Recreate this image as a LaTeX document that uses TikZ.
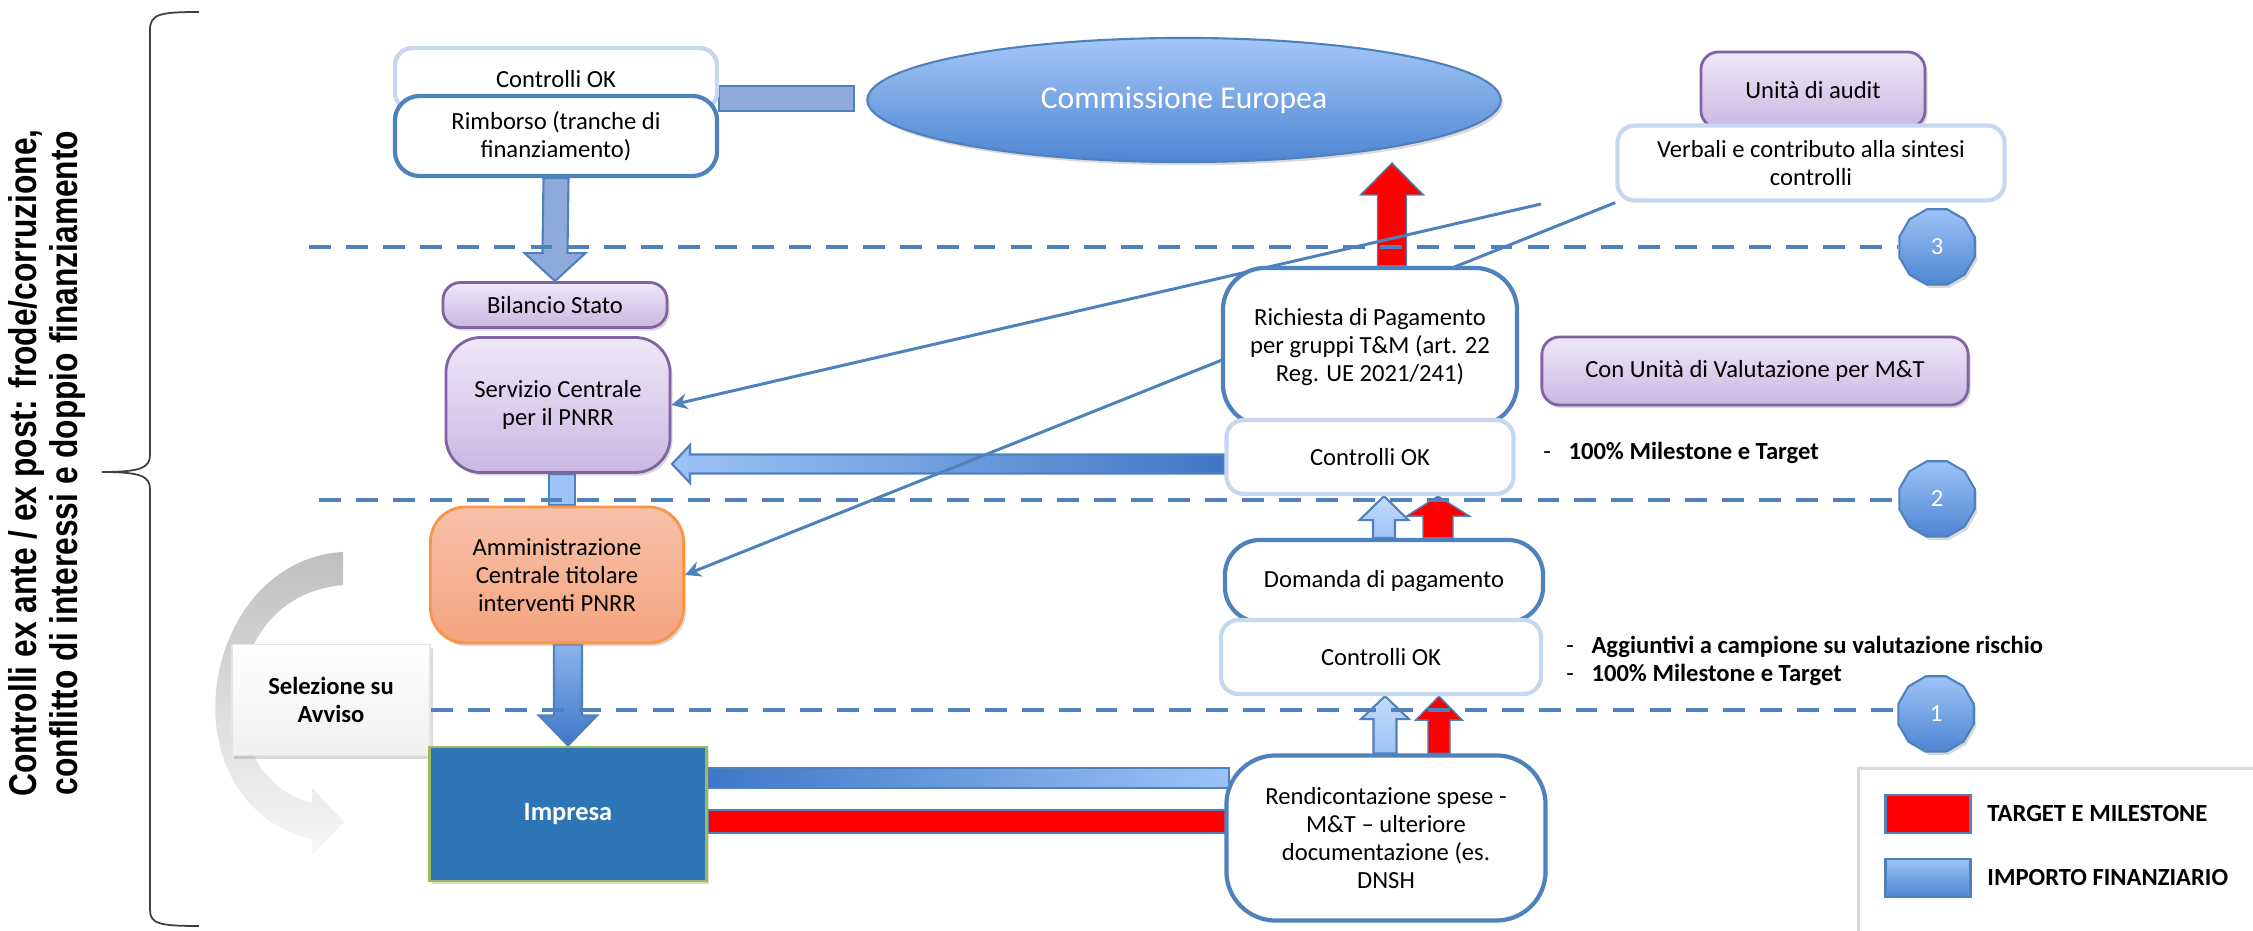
\documentclass[tikz,border=0pt]{standalone}
\usepackage{fontspec}
\setmainfont{Carlito}
\newfontfamily\narrowbold{Liberation Sans}[FakeStretch=0.82]
\usetikzlibrary{shapes.geometric,shadows,calc,backgrounds,arrows.meta}

\definecolor{pnrrblue}{HTML}{4F81BD}
\definecolor{lightblue}{HTML}{9DC3F7}
\definecolor{midblue}{HTML}{8EAADB}
\definecolor{darkblue}{HTML}{3F77C6}
\definecolor{okedge}{HTML}{C5D8F0}
\definecolor{lilacedge}{HTML}{8064A2}
\definecolor{lilactop}{HTML}{EEE8F7}
\definecolor{lilacbot}{HTML}{CBB7E3}
\definecolor{peachtop}{HTML}{F8C1A9}
\definecolor{peachbot}{HTML}{F4A47F}
\definecolor{peachedge}{HTML}{F79646}
\definecolor{impblue}{HTML}{2E75B6}
\definecolor{impedge}{HTML}{9BBB59}
\definecolor{ceTop}{HTML}{A3C7F7}
\definecolor{ceBot}{HTML}{4E85D2}

% vertical block arrow: style, base, tip, half shaft, half head, head length
\newcommand\blockv[6]{%
  \draw[#1] ($(#2)+(-#4,0)$) -- ($(#3)+(-#4,#6)$) -- ($(#3)+(-#5,#6)$) -- (#3)
    -- ($(#3)+(#5,#6)$) -- ($(#3)+(#4,#6)$) -- ($(#2)+(#4,0)$) -- cycle;}
% horizontal block arrow
\newcommand\blockh[6]{%
  \draw[#1] ($(#2)+(0,-#4)$) -- ($(#3)+(#6,-#4)$) -- ($(#3)+(#6,-#5)$) -- (#3)
    -- ($(#3)+(#6,#5)$) -- ($(#3)+(#6,#4)$) -- ($(#2)+(0,#4)$) -- cycle;}

\tikzset{
  softshadow/.style={drop shadow={shadow xshift=0.7pt, shadow yshift=-0.9pt, opacity=0.3}},
  okbox/.style={draw=okedge, line width=1.2pt, fill=white, rounded corners=5pt, align=center, inner sep=1pt},
  bluebox/.style={draw=pnrrblue, line width=1.2pt, fill=white, align=center, inner sep=1pt},
  lilacbox/.style={draw=lilacedge, line width=0.8pt, top color=lilactop, bottom color=lilacbot, rounded corners=5pt, align=center, softshadow},
  peachbox/.style={draw=peachedge, line width=0.8pt, top color=peachtop, bottom color=peachbot, rounded corners=10pt, align=center, softshadow},
  selbox/.style={draw=black!10, line width=0.5pt, top color=white, bottom color=black!6, align=center, softshadow},
  impbox/.style={draw=impedge, line width=0.8pt, fill=impblue, text=white, softshadow},
  numpoly/.style={regular polygon, regular polygon sides=12, minimum size=0.78cm, inner sep=0pt, draw=pnrrblue, line width=0.6pt, top color=lightblue, bottom color=ceBot, text=white, softshadow},
  level/.style={draw=pnrrblue, line width=1.2pt, dash pattern=on 6.2pt off 4.3pt},
  diag/.style={draw=pnrrblue, line width=0.85pt, -{Stealth[length=4.5pt, width=4.5pt]}},
  midbar/.style={draw=pnrrblue, line width=0.6pt, fill=midblue},
  lightbar/.style={draw=pnrrblue, line width=0.6pt, fill=lightblue},
  uplight/.style={draw=pnrrblue, line width=0.6pt, top color=lightblue!60!white, bottom color=lightblue},
  redarr/.style={draw=pnrrblue, line width=0.4pt, fill=red},
  downblue/.style={draw=pnrrblue, line width=0.6pt, top color=lightblue!80!darkblue, bottom color=darkblue},
  leftblue/.style={draw=pnrrblue, line width=0.6pt, left color=lightblue, right color=darkblue},
  rightblue/.style={draw=pnrrblue, line width=0.6pt, left color=darkblue, right color=lightblue},
  selarrow/.style={top color=black!25, bottom color=black!3},
  brace/.style={draw=black!75, line width=0.5pt},
  legendbox/.style={draw=black!15, line width=0.8pt, fill=white, softshadow},
  keybox/.style={minimum width=0.85cm, minimum height=0.38cm, draw=pnrrblue, line width=0.8pt}
}

\begin{document}
\begin{tikzpicture}[x=0.01cm, y=-0.01cm, every node/.style={font=\fontsize{7}{8}\selectfont}]
  \useasboundingbox (0,0) rectangle (2253,931);

  % side note and brace
  \node[rotate=90, align=center, font=\narrowbold\bfseries\fontsize{11}{11.5}\selectfont] (sidetext) at (47,463)
    {Controlli ex ante / ex post: frode/corruzione,\\conflitto di interessi e doppio finanziamento};
  \draw[brace] (199,12) .. controls (160,12) and (150,14) .. (150,30) -- (150,455)
    .. controls (150,468) and (140,472) .. (102,472) .. controls (140,472) and (150,476) .. (150,489)
    -- (150,910) .. controls (150,924) and (160,926) .. (199,926);

  % left column
  \node[okbox, minimum width=3.22cm, minimum height=0.62cm] (ctrlTop) at (556,79) {Controlli OK};
  \node[bluebox, rounded corners=7pt, minimum width=3.22cm, minimum height=0.80cm] (rimb) at (556,136) {Rimborso (tranche di\\finanziamento)};
  \node[ellipse, minimum width=6.33cm, minimum height=1.24cm, top color=ceTop, bottom color=ceBot, draw=pnrrblue, line width=0.6pt, text=white, softshadow, font=\fontsize{9}{10}\selectfont] (ce) at (1184,100) {Commissione Europea};
  \node[lilacbox, minimum width=2.24cm, minimum height=0.45cm] (bil) at (555,305) {Bilancio Stato};
  \node[lilacbox, rounded corners=10pt, minimum width=2.24cm, minimum height=1.35cm] (serv) at (558,405) {Servizio Centrale\\per il PNRR};
  \node[peachbox, minimum width=2.53cm, minimum height=1.36cm] (amm) at (557,575) {Amministrazione\\Centrale titolare\\interventi PNRR};
  \node[selbox, minimum width=1.98cm, minimum height=1.11cm] (sel) at (331,700) {\textbf{Selezione su}\\\textbf{Avviso}};
  \node[impbox, minimum width=2.77cm, minimum height=1.34cm, font=\fontsize{7.5}{8}\selectfont\bfseries] (imp) at (568,814) {Impresa};

  % right column
  \node[lilacbox, minimum width=2.24cm, minimum height=0.76cm] (audit) at (1813,90) {Unità di audit};
  \node[okbox, minimum width=3.87cm, minimum height=0.75cm] (verb) at (1811,163) {Verbali e contributo alla sintesi\\controlli};
  \node[bluebox, rounded corners=12pt, minimum width=2.94cm, minimum height=1.58cm] (rich) at (1370,347) {Richiesta di Pagamento\\per gruppi T\&M (art. 22\\Reg. UE 2021/241)};
  \node[okbox, minimum width=2.87cm, minimum height=0.74cm] (ctrlMid) at (1370,457) {Controlli OK};
  \node[lilacbox, minimum width=4.26cm, minimum height=0.68cm] (con) at (1755,371) {Con Unità di Valutazione per M\&T};
  \node[bluebox, rounded corners=10pt, minimum width=3.18cm, minimum height=0.82cm] (dom) at (1384,581) {Domanda di pagamento};
  \node[okbox, minimum width=3.20cm, minimum height=0.74cm] (ctrlLow) at (1381,657) {Controlli OK};
  \node[bluebox, rounded corners=14pt, minimum width=3.19cm, minimum height=1.65cm] (rend) at (1386,838) {Rendicontazione spese -\\M\&T -- ulteriore\\documentazione (es.\\DNSH};

  \node[anchor=west] (noteMid) at (1531,453) {-\hspace{5pt}\textbf{100\% Milestone e Target}};
  \node[anchor=west, align=left] (noteLow) at (1554,661) {-\hspace{5pt}\textbf{Aggiuntivi a campione su valutazione rischio}\\-\hspace{5pt}\textbf{100\% Milestone e Target}};

  \node[numpoly] (c3) at (1937,247) {3};
  \node[numpoly] (c2) at (1937,499) {2};
  \node[numpoly] (c1) at (1936,714) {1};

  % legend
  \node[legendbox, anchor=north west, minimum width=4.3cm, minimum height=1.9cm] (legend) at (1857,767) {};
  \node[keybox, fill=red] (keyRed) at (1928,814) {};
  \node[anchor=west, font=\fontsize{7}{8}\selectfont\bfseries] (keyRedText) at (1975,814) {TARGET E MILESTONE};
  \node[keybox, top color=lightblue, bottom color=ceBot] (keyBlue) at (1928,878) {};
  \node[anchor=west, font=\fontsize{7}{8}\selectfont\bfseries] (keyBlueText) at (1975,878) {IMPORTO FINANZIARIO};

  % connectors behind the boxes
  \coordinate (barL) at (rimb.east |- ce.west);
  \coordinate (aiTop) at (amm.south -| imp.north);
  \coordinate (bigTip) at (672,464);
  \coordinate (bigBase) at (ctrlMid.west |- bigTip);
  \coordinate (rbBase) at (1385,0 |- rend.north);
  \coordinate (rbTip) at (rbBase |- ctrlLow.south);
  \coordinate (rrBase) at (1439,0 |- rend.north);
  \coordinate (rrTip) at (rrBase |- ctrlLow.south);
  \coordinate (dbBase) at (1384,0 |- dom.north);
  \coordinate (dbTip) at (dbBase |- ctrlMid.south);
  \coordinate (drBase) at (1438,0 |- dom.north);
  \coordinate (drTip) at (drBase |- ctrlMid.south);
  \coordinate (ceTip) at (1392,163);
  \coordinate (ceBase) at (ceTip |- rich.north);
  \coordinate (rendIn) at (rend.west |- imp.east);
  \coordinate (d3) at (309,247);
  \coordinate (d2) at (319,500);
  \coordinate (d1) at (431,710);
  \coordinate (aStart) at (1541,204);

  \begin{scope}[on background layer]
    % selection arrow
    \shade[selarrow] (343,552) .. controls (200,560) and (160,800) .. (312,840) -- (312,855) -- (344,822)
      -- (312,788) -- (312,803) .. controls (213,780) and (213,597) .. (343,585) -- cycle;

    % money and target flows
    \draw[midbar] ($(barL)+(0,-14)$) rectangle ($(ce.west)+(-12,11)$);
    \blockv{midbar}{rimb.south}{bil.north}{12.5}{30.5}{-28}
    \draw[lightbar] ($(serv.south)+(-9,0)$) rectangle ($(amm.north)+(18,0)$);
    \blockv{downblue}{aiTop}{imp.north}{14}{29}{-30}
    \blockh{leftblue}{bigBase}{bigTip}{9.5}{19}{18}
    \draw[rightblue] ($(imp.east)+(0,-46)$) rectangle ($(rendIn)+(5,-26)$);
    \draw[redarr] ($(imp.east)+(0,-4)$) rectangle ($(rendIn)+(5,19)$);
    \blockv{uplight}{rbBase}{rbTip}{11.5}{24}{23}
    \blockv{redarr}{rrBase}{rrTip}{11}{23.5}{24}
    \blockv{uplight}{dbBase}{dbTip}{11}{24.5}{24}
    \blockv{redarr}{drBase}{drTip}{15}{31.5}{20}
    \blockv{redarr}{ceBase}{ceTip}{14.5}{31.5}{32}

    % control levels
    \draw[level] (d3) -- (d3 -| c3.west);
    \draw[level] (d2) -- (d2 -| c2.west);
    \draw[level] (d1) -- (d1 -| c1.west);

    % audit feedback
    \draw[diag] (aStart) -- (serv.east);
    \draw[diag] (verb.south west) -- (amm.east);
  \end{scope}
\end{tikzpicture}
\end{document}
